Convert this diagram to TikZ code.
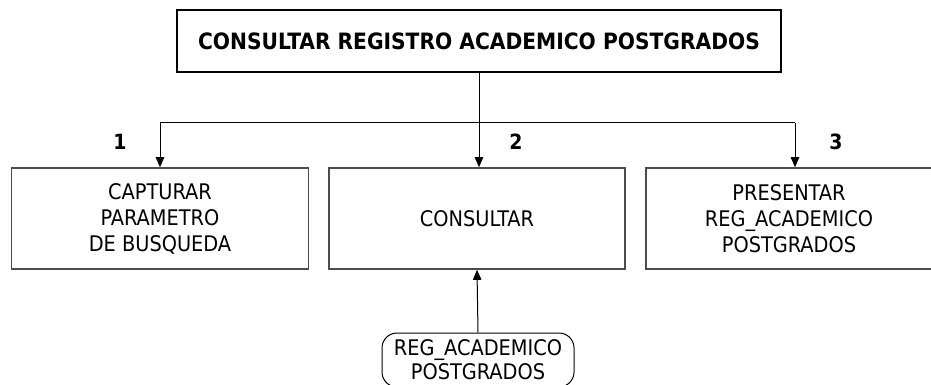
\documentclass[tikz,border=0pt]{standalone}
\usepackage{fontspec}
\setmainfont{DejaVu Sans Condensed}
\usetikzlibrary{arrows.meta}
\begin{document}
\begin{tikzpicture}[x=1pt,y=-1pt,
  titlebox/.style={draw=black, line width=2pt, minimum width=604pt, minimum height=62pt, inner sep=0pt, font=\fontsize{22.5}{26}\selectfont\bfseries},
  procbox/.style={draw=black!70, line width=1.6pt, minimum height=101pt, inner sep=0pt, align=center, font=\fontsize{21.5}{26}\selectfont},
  store/.style={draw=black, line width=1pt, rounded corners=15pt, minimum width=192pt, minimum height=54pt, inner sep=0pt, align=center, font=\fontsize{21.5}{24}\selectfont},
  conn/.style={draw=black, line width=1pt},
  arr/.style={conn, -{Triangle[length=10pt,width=8.5pt]}},
  num/.style={font=\fontsize{21}{24}\selectfont\bfseries}]
\useasboundingbox (0,0) rectangle (931,385);
\node[titlebox] (top) at (479,41) {CONSULTAR REGISTRO ACADEMICO POSTGRADOS};
\node[procbox, minimum width=297pt] (b1) at (160,218.5) {CAPTURAR\\PARAMETRO\\DE BUSQUEDA};
\node[procbox, minimum width=296pt] (b2) at (477,218.5) {CONSULTAR};
\node[procbox, minimum width=286pt] (b3) at (789,218.5) {PRESENTAR\\REG\_ACADEMICO\\POSTGRADOS};
\node[store] (ds) at (478,360) {REG\_ACADEMICO\\POSTGRADOS};
\coordinate (j) at (479,123);
\coordinate (l) at (160,123);
\coordinate (r) at (795,123);
\draw[conn] (top.south) -- (j);
\draw[conn] (l) -- (r);
\draw[arr] (l) -- (b1.north -| l);
\draw[arr] (j) -- (b2.north -| j);
\draw[arr] (r) -- (b3.north -| r);
\draw[arr] (ds.north) -- (b2.south);
\node[num] (n1) at (120,142) {1};
\node[num] (n2) at (516,142) {2};
\node[num] (n3) at (836,142) {3};
\end{tikzpicture}
\end{document}
